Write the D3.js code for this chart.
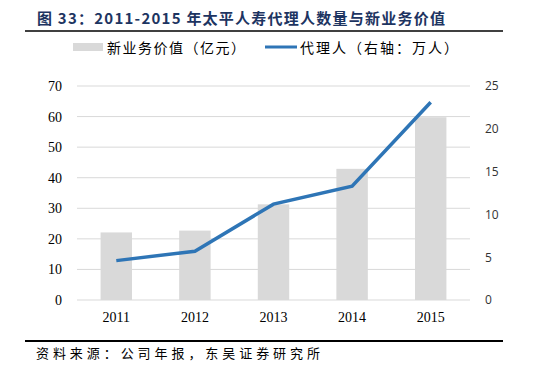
<!DOCTYPE html>
<html>
<head>
<meta charset="utf-8">
<script src="https://cdn.jsdelivr.net/npm/d3@7/dist/d3.min.js"></script>
<style>
  body { margin: 0; background: #fff; }
  svg { display: block; }
</style>
</head>
<body>
<div id="chart"></div>
<script>
// 数据
const years = ['2011', '2012', '2013', '2014', '2015'];
const nbv = [22.1, 22.7, 31.3, 42.9, 59.8];      // 新业务价值（亿元）
const agents = [4.6, 5.7, 11.2, 13.3, 23.1];      // 代理人（万人）
const leftTicks = [0, 10, 20, 30, 40, 50, 60, 70];
const rightTicks = [0, 5, 10, 15, 20, 25];

const W = 540, H = 377;
const margin = { top: 86, right: 70, bottom: 77, left: 77 };
const w = W - margin.left - margin.right;
const h = H - margin.top - margin.bottom;
const cjk = 'Noto Sans CJK SC, sans-serif';

const root = d3.select('#chart').append('svg')
  .attr('width', W).attr('height', H);

// 标题
root.append('text')
  .attr('x', 37).attr('y', 24)
  .attr('font-family', cjk)
  .attr('font-weight', 'bold')
  .attr('font-size', 15)
  .attr('fill', '#1d3461')
  .attr('textLength', 408).attr('lengthAdjust', 'spacing')
  .text('图 33：2011-2015 年太平人寿代理人数量与新业务价值');

root.append('line')
  .attr('x1', 25).attr('x2', 503).attr('y1', 31).attr('y2', 31)
  .attr('stroke', '#000').attr('stroke-width', 1.6);

// 图例
const leg = root.append('g').attr('font-family', cjk)
  .attr('font-size', 14).attr('fill', '#000');
leg.append('rect').attr('x', 73).attr('y', 43).attr('width', 30).attr('height', 8).attr('fill', '#d9d9d9');
leg.append('text').attr('x', 107).attr('y', 53)
  .attr('textLength', 138).attr('lengthAdjust', 'spacing')
  .text('新业务价值（亿元）');
leg.append('line').attr('x1', 265).attr('x2', 297).attr('y1', 47).attr('y2', 47)
  .attr('stroke', '#2e75b6').attr('stroke-width', 3);
leg.append('text').attr('x', 300).attr('y', 53)
  .attr('textLength', 158).attr('lengthAdjust', 'spacing')
  .text('代理人（右轴：万人）');

const svg = root.append('g')
  .attr('transform', `translate(${margin.left},${margin.top})`);

const x = d3.scaleBand().domain(years).range([0, w]).paddingInner(0.6).paddingOuter(0.3);
const yL = d3.scaleLinear().domain([0, 70]).range([h, 0]);
const yR = d3.scaleLinear().domain([0, 25]).range([h, 0]);

// 网格线
svg.append('g')
  .selectAll('line').data(leftTicks).join('line')
  .attr('x1', 0).attr('x2', w)
  .attr('y1', d => yL(d)).attr('y2', d => yL(d))
  .attr('stroke', '#d9d9d9').attr('stroke-width', 1);

// 左轴
svg.append('g')
  .call(d3.axisLeft(yL).tickValues(leftTicks).tickSize(0).tickPadding(15))
  .call(g => g.select('.domain').remove())
  .call(g => g.selectAll('text')
    .attr('font-family', 'Liberation Serif, serif')
    .attr('font-size', 14).attr('fill', '#000'));

// 右轴
svg.append('g')
  .attr('transform', `translate(${w},0)`)
  .call(d3.axisRight(yR).tickValues(rightTicks).tickSize(0).tickPadding(15))
  .call(g => g.select('.domain').remove())
  .call(g => g.selectAll('text')
    .attr('font-family', 'Open Sans, sans-serif')
    .attr('font-size', 12).attr('fill', '#333'));

// X轴
svg.append('g')
  .attr('transform', `translate(0,${h})`)
  .call(d3.axisBottom(x).tickSize(0).tickPadding(12))
  .call(g => g.select('.domain').remove())
  .call(g => g.selectAll('text')
    .attr('font-family', 'Liberation Serif, serif')
    .attr('font-size', 14).attr('fill', '#000'));

// 柱
svg.append('g')
  .selectAll('rect').data(years).join('rect')
  .attr('x', d => x(d))
  .attr('width', x.bandwidth())
  .attr('y', (d, i) => yL(nbv[i]))
  .attr('height', (d, i) => h - yL(nbv[i]))
  .attr('fill', '#d9d9d9');

// 线
const line = d3.line()
  .x((d, i) => x(years[i]) + x.bandwidth() / 2)
  .y(d => yR(d));
svg.append('path')
  .datum(agents)
  .attr('d', line)
  .attr('fill', 'none')
  .attr('stroke', '#2e75b6')
  .attr('stroke-width', 3.5);

// 底部
root.append('line')
  .attr('x1', 25).attr('x2', 503).attr('y1', 341).attr('y2', 341)
  .attr('stroke', '#000').attr('stroke-width', 2);

root.append('text')
  .attr('x', 36).attr('y', 358)
  .attr('font-family', cjk)
  .attr('font-size', 13).attr('fill', '#000')
  .attr('textLength', 284).attr('lengthAdjust', 'spacing')
  .text('资料来源：公司年报，东吴证券研究所');
</script>
</body>
</html>
